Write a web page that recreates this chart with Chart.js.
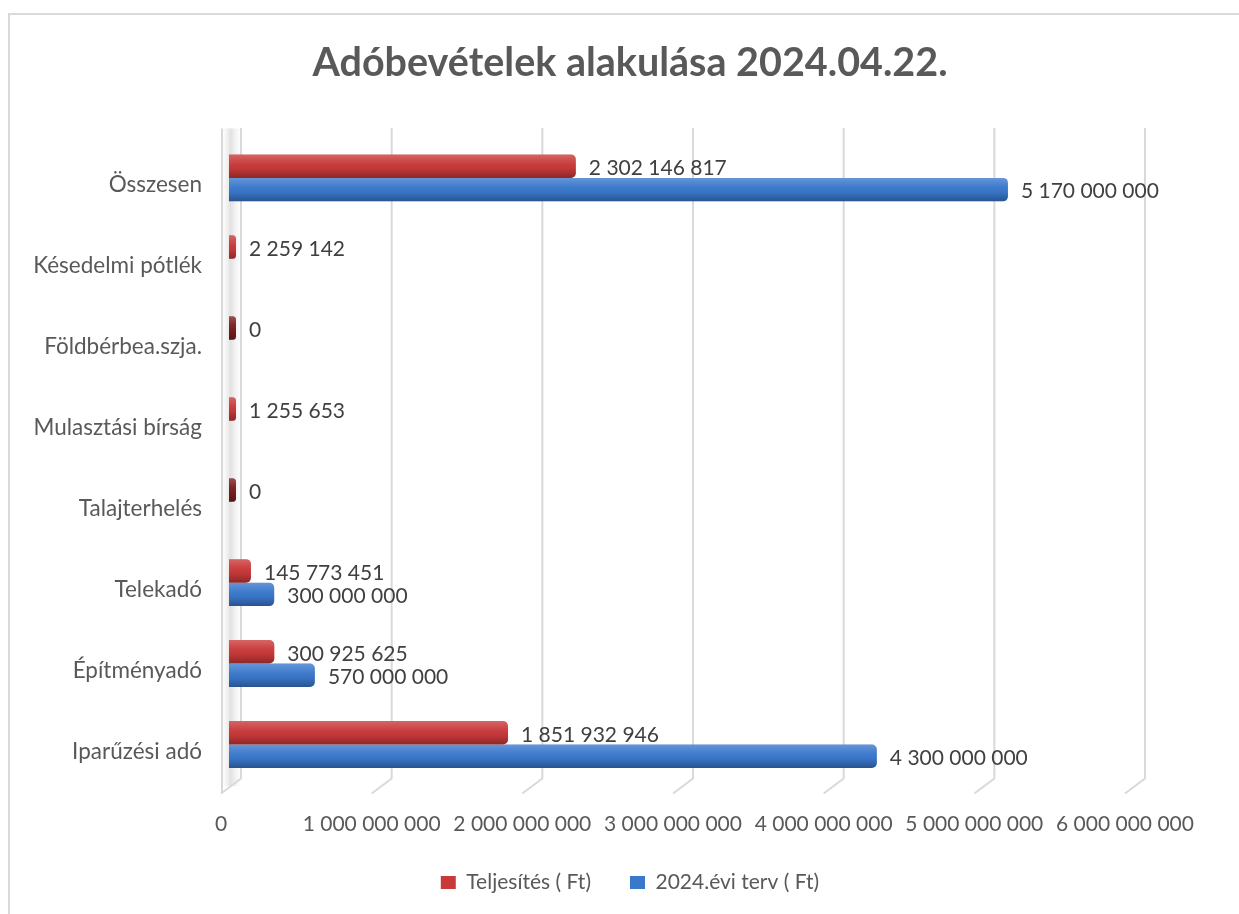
<!DOCTYPE html>
<html>
<head>
<meta charset="utf-8">
<script src="https://cdn.jsdelivr.net/npm/chart.js@4"></script>
<style>
html,body{margin:0;padding:0;background:#fff;overflow:hidden;}
#wrap{position:absolute;left:0;top:0;width:1239px;height:914px;}
#frame{position:absolute;left:8px;top:13px;width:1240px;height:910px;border:2px solid #d9d9d9;box-sizing:border-box;pointer-events:none;}
canvas{position:absolute;left:0;top:0;}
</style>
</head>
<body>
<div id="wrap">
<canvas id="c" width="1239" height="914"></canvas>
<div id="frame"></div>
</div>
<script>
const chartTitle = 'Adóbevételek alakulása 2024.04.22.';
const categories = ['Összesen','Késedelmi pótlék','Földbérbea.szja.','Mulasztási bírság','Talajterhelés','Telekadó','Építményadó','Iparűzési adó'];
const seriesNames = ['Teljesítés ( Ft)','2024.évi terv ( Ft)'];
const teljesites = [2302146817, 2259142, 0, 1255653, 0, 145773451, 300925625, 1851932946];
const terv = [5170000000, null, null, null, null, 300000000, 570000000, 4300000000];
const xTicks = [0,1000000000,2000000000,3000000000,4000000000,5000000000,6000000000];

const FONT = 'Lato, "Noto Sans", sans-serif';
const fmt = v => String(v).replace(/\B(?=(\d{3})+(?!\d))/g, ' ');

const widenPlugin = {
  id: 'widenY',
  afterLayout(chart) {
    const y = chart.scales.y;
    y.left = 0;
    y.width = y.right;
  }
};

const gridPlugin = {
  id: 'grid3d',
  beforeDatasetsDraw(chart) {
    const {ctx, chartArea: a, scales: {x}} = chart;
    ctx.save();
    const x0 = x.getPixelForValue(0);
    const g = ctx.createLinearGradient(x0 - 7, 0, x0 + 12, 0);
    g.addColorStop(0, 'rgba(200,200,200,0.0)');
    g.addColorStop(0.45, 'rgba(170,170,170,0.35)');
    g.addColorStop(1, 'rgba(200,200,200,0.0)');
    ctx.fillStyle = g;
    ctx.fillRect(x0 - 6, a.top - 9, 17, a.bottom - a.top + 10);
    ctx.strokeStyle = '#d9d9d9';
    ctx.lineWidth = 2;
    ctx.beginPath();
    ctx.moveTo(x0 - 7, a.top - 9);
    ctx.lineTo(x0 - 7, a.bottom + 8.5);
    ctx.stroke();
    xTicks.forEach(v => {
      const xf = x.getPixelForValue(v);
      ctx.beginPath();
      ctx.moveTo(xf + 12, a.top - 9.5);
      ctx.lineTo(xf + 12, a.bottom - 6.5);
      ctx.lineTo(xf - 8, a.bottom + 8.5);
      ctx.stroke();
    });
    ctx.restore();
  }
};

const shadePlugin = {
  id: 'shade3d',
  afterDatasetsDraw(chart) {
    const {ctx} = chart;
    ctx.save();
    chart.data.datasets.forEach((ds, di) => {
      const meta = chart.getDatasetMeta(di);
      meta.data.forEach((el, i) => {
        const v = ds.data[i];
        if (v === null || v === undefined) return;
        const p = el.getProps(['x','y','base','height'], true);
        const left = Math.min(p.base, p.x), right = Math.max(p.base, p.x);
        const top = p.y - p.height / 2, h = p.height;
        const g = ctx.createLinearGradient(0, top, 0, top + h);
        g.addColorStop(0, 'rgba(255,255,255,0.22)');
        g.addColorStop(0.35, 'rgba(255,255,255,0.05)');
        g.addColorStop(0.6, 'rgba(0,0,0,0.03)');
        g.addColorStop(1, 'rgba(0,0,0,0.30)');
        ctx.fillStyle = g;
        ctx.beginPath();
        const r = Math.min(5, (right - left) / 2);
        ctx.roundRect(left, top, right - left, h, [0, r, r, 0]);
        ctx.fill();
        ctx.fillStyle = '#404040';
        ctx.font = '21px ' + FONT;
        ctx.textAlign = 'left';
        ctx.textBaseline = 'middle';
        ctx.fillText(fmt(v), right + 13, p.y + 2);
      });
    });
    ctx.restore();
  }
};

new Chart(document.getElementById('c'), {
  type: 'bar',
  data: {
    labels: categories,
    datasets: [
      {label: seriesNames[0], data: teljesites,
       backgroundColor: c => (c.raw === 0 ? '#7a1f1f' : '#c9393a'),
       borderWidth: 0,
       borderRadius: {topLeft:0, bottomLeft:0, topRight:5, bottomRight:5}, borderSkipped: false,
       minBarLength: 7},
      {label: seriesNames[1], data: terv,
       backgroundColor: '#3a78cc',
       borderWidth: 0,
       borderRadius: {topLeft:0, bottomLeft:0, topRight:5, bottomRight:5}, borderSkipped: false}
    ]
  },
  options: {
    indexAxis: 'y',
    responsive: false,
    animation: false,
    devicePixelRatio: 1,
    categoryPercentage: 0.58,
    barPercentage: 1,
    layout: {padding: {left: 127, right: 106, top: 0, bottom: 11}},
    plugins: {
      title: {display: true, text: chartTitle, color: '#595959',
              font: {family: FONT, size: 39.5, weight: 'bold'},
              padding: {top: 40, bottom: 50}},
      legend: {position: 'bottom',
               labels: {color: '#595959', font: {family: FONT, size: 21},
                        boxWidth: 15, boxHeight: 13, padding: 39,
                        generateLabels(chart) {
                          const cols = ['#c9393a', '#3a78cc'];
                          return chart.data.datasets.map((d, i) => ({text: d.label, fillStyle: cols[i], strokeStyle: cols[i], lineWidth: 0, datasetIndex: i, fontColor: '#595959'}));
                        }}},
      tooltip: {enabled: false}
    },
    scales: {
      x: {min: 0, max: 6000000000,
          afterBuildTicks: s => { s.ticks = xTicks.map(v => ({value: v})); },
          afterFit: s => { s.height = 48; },
          grid: {display: false, drawTicks: false}, border: {display: false},
          ticks: {color: '#595959', font: {family: FONT, size: 21}, padding: 27, labelOffset: -8,
                  maxRotation: 0, autoSkip: false, callback: v => fmt(v)}},
      y: {afterFit: s => { s.width = 102; },
          grid: {display: false, drawTicks: false}, border: {display: false},
          ticks: {color: '#595959', font: {family: FONT, size: 22.5}, padding: 27, labelOffset: 7}}
    }
  },
  plugins: [widenPlugin, gridPlugin, shadePlugin]
});
</script>
</body>
</html>
